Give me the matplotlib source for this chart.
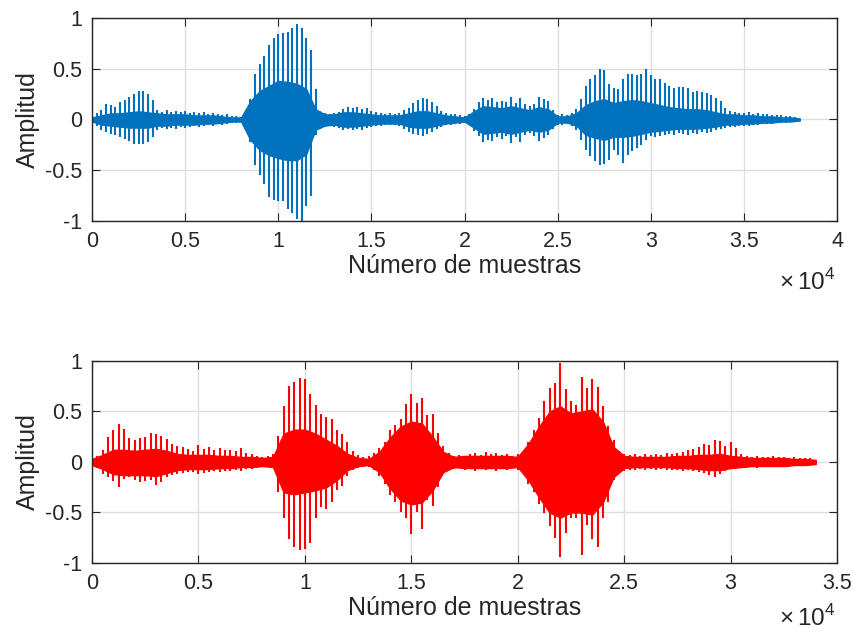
import numpy as np
import matplotlib
matplotlib.use("Agg")
import matplotlib.pyplot as plt
from matplotlib.ticker import FixedLocator, FuncFormatter

plt.rcParams['font.family'] = ['Liberation Sans', 'DejaVu Sans']
plt.rcParams['mathtext.fontset'] = 'custom'
plt.rcParams['mathtext.rm'] = 'Liberation Sans'

# envelopes: spike peaks every 250 samples,
# dense part of the waveform every 500 samples
paso_picos = 250
paso_cuerpo = 500

# senal 1 (azul), ~38000 muestras
s1_max = [0.03, 0.06, 0.09, 0.15, 0.14, 0.12, 0.17, 0.19, 0.22, 0.25, 0.28, 0.28,
          0.25, 0.19, 0.09, 0.07, 0.09, 0.07, 0.08, 0.07, 0.08, 0.06, 0.07, 0.06,
          0.07, 0.05, 0.06, 0.05, 0.04, 0.05, 0.03, 0.03, 0.02, 0.03, 0.20, 0.45,
          0.55, 0.63, 0.73, 0.80, 0.84, 0.85, 0.86, 0.90, 0.94, 0.90, 0.80, 0.68,
          0.30, 0.08, 0.06, 0.05, 0.06, 0.07, 0.10, 0.12, 0.11, 0.12, 0.10, 0.11,
          0.08, 0.07, 0.06, 0.05, 0.06, 0.05, 0.06, 0.09, 0.11, 0.16, 0.19, 0.21,
          0.20, 0.17, 0.13, 0.08, 0.06, 0.05, 0.05, 0.04, 0.03, 0.05, 0.10, 0.17,
          0.21, 0.19, 0.21, 0.17, 0.18, 0.17, 0.22, 0.16, 0.21, 0.15, 0.13, 0.15,
          0.22, 0.20, 0.18, 0.09, 0.04, 0.05, 0.04, 0.06, 0.10, 0.20, 0.33, 0.40,
          0.44, 0.50, 0.49, 0.35, 0.31, 0.30, 0.40, 0.45, 0.45, 0.44, 0.45, 0.50,
          0.44, 0.40, 0.40, 0.36, 0.33, 0.31, 0.32, 0.32, 0.31, 0.27, 0.28, 0.27,
          0.26, 0.24, 0.21, 0.18, 0.11, 0.08, 0.07, 0.06, 0.06, 0.07, 0.05, 0.06,
          0.05, 0.05, 0.04, 0.04, 0.04, 0.03, 0.03, 0.02]
s1_min = [-0.03, -0.06, -0.10, -0.12, -0.14, -0.15, -0.17, -0.19, -0.21, -0.24, -0.24, -0.24,
          -0.22, -0.17, -0.10, -0.08, -0.09, -0.08, -0.09, -0.07, -0.08, -0.07, -0.06, -0.07,
          -0.06, -0.05, -0.06, -0.04, -0.05, -0.04, -0.03, -0.03, -0.02, -0.03, -0.22, -0.45,
          -0.55, -0.64, -0.76, -0.79, -0.80, -0.80, -0.88, -0.92, -0.98, -1.00, -0.85, -0.75,
          -0.15, -0.09, -0.07, -0.06, -0.07, -0.08, -0.10, -0.09, -0.10, -0.09, -0.10, -0.08,
          -0.07, -0.06, -0.06, -0.05, -0.05, -0.05, -0.06, -0.09, -0.12, -0.14, -0.15, -0.16,
          -0.14, -0.12, -0.09, -0.07, -0.05, -0.05, -0.04, -0.04, -0.03, -0.05, -0.11, -0.16,
          -0.22, -0.20, -0.21, -0.17, -0.19, -0.16, -0.23, -0.17, -0.22, -0.15, -0.13, -0.16,
          -0.21, -0.18, -0.15, -0.09, -0.05, -0.05, -0.04, -0.06, -0.10, -0.20, -0.30, -0.36,
          -0.41, -0.45, -0.44, -0.40, -0.30, -0.35, -0.43, -0.35, -0.31, -0.28, -0.25, -0.20,
          -0.16, -0.17, -0.16, -0.15, -0.14, -0.15, -0.13, -0.14, -0.15, -0.13, -0.14, -0.12,
          -0.13, -0.12, -0.10, -0.09, -0.08, -0.07, -0.07, -0.06, -0.06, -0.06, -0.05, -0.05,
          -0.04, -0.04, -0.04, -0.03, -0.03, -0.03, -0.02, -0.02]
s1_cuerpo_max = [0.02, 0.04, 0.06, 0.06, 0.07, 0.08, 0.07, 0.06, 0.05, 0.05, 0.05, 0.04,
                 0.04, 0.04, 0.03, 0.02, 0.02, 0.18, 0.28, 0.33, 0.38, 0.37, 0.35, 0.30,
                 0.10, 0.05, 0.05, 0.07, 0.07, 0.06, 0.05, 0.04, 0.04, 0.04, 0.06, 0.08,
                 0.08, 0.06, 0.04, 0.03, 0.02, 0.08, 0.13, 0.12, 0.11, 0.13, 0.11, 0.09,
                 0.12, 0.10, 0.03, 0.03, 0.06, 0.14, 0.18, 0.20, 0.16, 0.18, 0.19, 0.18,
                 0.16, 0.14, 0.12, 0.11, 0.10, 0.10, 0.09, 0.07, 0.05, 0.05, 0.04, 0.04,
                 0.03, 0.03, 0.02, 0.02, 0.01]
s1_cuerpo_min = [-0.02, -0.05, -0.06, -0.07, -0.08, -0.08, -0.08, -0.06, -0.06, -0.05, -0.05, -0.05,
                 -0.04, -0.04, -0.03, -0.02, -0.02, -0.20, -0.30, -0.35, -0.38, -0.40, -0.40, -0.34,
                 -0.10, -0.06, -0.05, -0.07, -0.07, -0.06, -0.05, -0.04, -0.04, -0.04, -0.07, -0.08,
                 -0.08, -0.06, -0.04, -0.03, -0.02, -0.08, -0.14, -0.13, -0.12, -0.14, -0.12, -0.10,
                 -0.12, -0.10, -0.03, -0.03, -0.06, -0.15, -0.18, -0.20, -0.17, -0.17, -0.16, -0.14,
                 -0.12, -0.11, -0.10, -0.09, -0.09, -0.09, -0.08, -0.07, -0.05, -0.05, -0.04, -0.04,
                 -0.03, -0.03, -0.02, -0.02, -0.01]

# senal 2 (roja), ~34000 muestras
s2_max = [0.04, 0.06, 0.12, 0.25, 0.32, 0.38, 0.33, 0.24, 0.22, 0.24, 0.25, 0.29,
          0.28, 0.26, 0.23, 0.18, 0.16, 0.15, 0.13, 0.11, 0.17, 0.13, 0.15, 0.12,
          0.14, 0.12, 0.12, 0.11, 0.14, 0.09, 0.08, 0.06, 0.05, 0.06, 0.08, 0.26,
          0.55, 0.75, 0.79, 0.83, 0.82, 0.67, 0.56, 0.48, 0.45, 0.43, 0.32, 0.28,
          0.20, 0.11, 0.07, 0.05, 0.06, 0.09, 0.14, 0.20, 0.32, 0.37, 0.43, 0.57,
          0.67, 0.58, 0.63, 0.47, 0.48, 0.29, 0.16, 0.09, 0.06, 0.07, 0.06, 0.08,
          0.09, 0.07, 0.10, 0.08, 0.09, 0.07, 0.08, 0.06, 0.08, 0.10, 0.20, 0.32,
          0.44, 0.60, 0.73, 0.78, 0.98, 0.72, 0.60, 0.56, 0.84, 0.73, 0.82, 0.74,
          0.55, 0.36, 0.22, 0.11, 0.08, 0.07, 0.08, 0.06, 0.08, 0.07, 0.08, 0.07,
          0.09, 0.08, 0.09, 0.10, 0.12, 0.13, 0.15, 0.18, 0.17, 0.22, 0.21, 0.16,
          0.20, 0.14, 0.08, 0.06, 0.05, 0.06, 0.05, 0.05, 0.06, 0.05, 0.05, 0.04,
          0.05, 0.04, 0.04, 0.04]
s2_min = [-0.04, -0.06, -0.12, -0.15, -0.19, -0.25, -0.17, -0.15, -0.18, -0.20, -0.19, -0.18,
          -0.23, -0.20, -0.15, -0.13, -0.12, -0.11, -0.10, -0.10, -0.12, -0.11, -0.10, -0.09,
          -0.10, -0.09, -0.09, -0.08, -0.09, -0.07, -0.07, -0.06, -0.05, -0.05, -0.06, -0.30,
          -0.55, -0.76, -0.84, -0.87, -0.86, -0.80, -0.55, -0.45, -0.47, -0.40, -0.28, -0.24,
          -0.14, -0.08, -0.06, -0.05, -0.05, -0.08, -0.14, -0.22, -0.33, -0.40, -0.50, -0.55,
          -0.71, -0.50, -0.66, -0.38, -0.44, -0.25, -0.12, -0.08, -0.07, -0.06, -0.08, -0.07,
          -0.09, -0.07, -0.08, -0.07, -0.09, -0.07, -0.08, -0.06, -0.08, -0.10, -0.22, -0.30,
          -0.42, -0.51, -0.63, -0.75, -0.94, -0.70, -0.55, -0.55, -0.92, -0.62, -0.76, -0.84,
          -0.55, -0.40, -0.18, -0.11, -0.09, -0.08, -0.08, -0.07, -0.08, -0.07, -0.08, -0.07,
          -0.08, -0.08, -0.08, -0.09, -0.08, -0.09, -0.10, -0.11, -0.13, -0.15, -0.12, -0.09,
          -0.07, -0.07, -0.06, -0.06, -0.05, -0.06, -0.05, -0.05, -0.05, -0.05, -0.04, -0.05,
          -0.04, -0.04, -0.04, -0.03]
s2_cuerpo_max = [0.03, 0.07, 0.12, 0.12, 0.11, 0.12, 0.13, 0.11, 0.08, 0.07, 0.07, 0.07,
                 0.06, 0.06, 0.05, 0.05, 0.04, 0.05, 0.28, 0.32, 0.32, 0.28, 0.22, 0.16,
                 0.08, 0.04, 0.03, 0.10, 0.24, 0.35, 0.40, 0.38, 0.25, 0.10, 0.05, 0.06,
                 0.06, 0.06, 0.06, 0.06, 0.05, 0.18, 0.35, 0.50, 0.55, 0.48, 0.50, 0.52,
                 0.40, 0.15, 0.06, 0.05, 0.05, 0.05, 0.05, 0.06, 0.06, 0.07, 0.07, 0.08,
                 0.06, 0.05, 0.04, 0.04, 0.04, 0.04, 0.03, 0.03, 0.02]
s2_cuerpo_min = [-0.03, -0.07, -0.12, -0.13, -0.13, -0.13, -0.14, -0.11, -0.08, -0.07, -0.07, -0.07,
                 -0.06, -0.06, -0.05, -0.05, -0.04, -0.05, -0.30, -0.32, -0.30, -0.28, -0.25, -0.18,
                 -0.08, -0.04, -0.03, -0.10, -0.26, -0.38, -0.42, -0.40, -0.28, -0.10, -0.05, -0.06,
                 -0.06, -0.06, -0.06, -0.06, -0.05, -0.18, -0.35, -0.50, -0.55, -0.50, -0.50, -0.52,
                 -0.40, -0.15, -0.06, -0.05, -0.05, -0.05, -0.05, -0.06, -0.06, -0.07, -0.08, -0.08,
                 -0.06, -0.05, -0.04, -0.04, -0.04, -0.04, -0.03, -0.03, -0.02]

xtick_top = np.arange(0, 40001, 5000)
xtick_bot = np.arange(0, 35001, 5000)
yticks = [-1, -0.5, 0, 0.5, 1]

gris = '#262626'


def dibujar(ax, vmax, vmin, cmax, cmin, color, xticks, y_exp):
    xp = np.arange(len(vmax)) * paso_picos
    xc = np.arange(len(cmax)) * paso_cuerpo
    ax.fill_between(xc, cmin, cmax, color=color, lw=1.0, zorder=3)
    ax.vlines(xp, vmin, vmax, color=color, lw=1.5, zorder=3)
    ax.set_xlim(xticks[0], xticks[-1])
    ax.set_ylim(-1, 1)
    ax.xaxis.set_major_locator(FixedLocator(xticks))
    ax.yaxis.set_major_locator(FixedLocator(yticks))
    ax.xaxis.set_major_formatter(FuncFormatter(lambda v, p: '%g' % (v / 1e4)))
    ax.yaxis.set_major_formatter(FuncFormatter(lambda v, p: '%g' % v))
    ax.grid(True, color='#dfdfdf', lw=1.0, zorder=0)
    ax.set_axisbelow(True)
    ax.tick_params(direction='in', top=True, right=True, length=5.5, width=0.8,
                   colors=gris, labelsize=15.5, pad=7)
    for s in ax.spines.values():
        s.set_color(gris)
        s.set_linewidth(1.0)
        s.set_zorder(5)
    ax.set_xlabel('Número de muestras', fontsize=18, color=gris, labelpad=2)
    ax.set_ylabel('Amplitud', fontsize=18, color=gris, labelpad=4)
    fig.text(0.979, y_exp, r'$\times\,10^{4}$', ha='right', va='baseline',
             fontsize=17.5, color=gris)


fig = plt.figure(figsize=(8.53, 6.31), dpi=100)
ax1 = fig.add_axes([0.1079, 0.6498, 0.8734, 0.3217])
ax2 = fig.add_axes([0.1079, 0.1078, 0.8734, 0.3201])

dibujar(ax1, s1_max, s1_min, s1_cuerpo_max, s1_cuerpo_min, '#0072BD', xtick_top, 0.540)
dibujar(ax2, s2_max, s2_min, s2_cuerpo_max, s2_cuerpo_min, '#FF0000', xtick_bot, 0.008)

fig.savefig('out.png', dpi=100)
